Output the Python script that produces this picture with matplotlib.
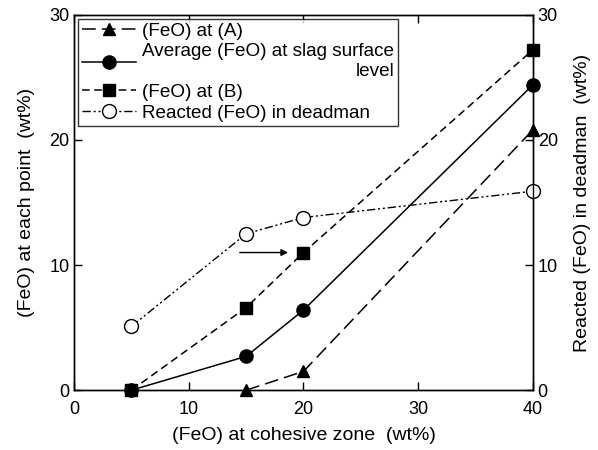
import matplotlib
matplotlib.use("Agg")
import matplotlib.pyplot as plt

plt.rcParams['font.family'] = ['Liberation Sans', 'DejaVu Sans']

# (FeO) at cohesive zone, wt%
x_a = [15, 20, 40]
feo_a = [0, 1.5, 20.8]
x_avg = [5, 15, 20, 40]
feo_avg = [0, 2.7, 6.4, 24.4]
x_b = [5, 15, 20, 40]
feo_b = [0, 6.6, 11.0, 27.2]
x_dm = [5, 15, 20, 40]
feo_dm = [5.1, 12.5, 13.8, 15.9]

fig = plt.figure(figsize=(5.98, 4.5), dpi=100)
ax = fig.add_axes([0.124, 0.133, 0.767, 0.834])

ax.plot(x_a, feo_a, color='black', lw=1.1, dashes=(9, 4),
        marker='^', ms=9, clip_on=False, label='(FeO) at (A)')
ax.plot(x_avg, feo_avg, color='black', lw=1.1, linestyle='-',
        marker='o', ms=9.5, clip_on=False,
        label='Average (FeO) at slag surface\nlevel')
ax.plot(x_b, feo_b, color='black', lw=1.1, dashes=(5, 3),
        marker='s', ms=9, clip_on=False, label='(FeO) at (B)')

ax2 = ax.twinx()
ax2.plot(x_dm, feo_dm, color='black', lw=1.0, dashes=(6, 2, 1.5, 2, 1.5, 2),
         marker='o', ms=10, mfc='white', mec='black', clip_on=False,
         label='Reacted (FeO) in deadman')

ax.annotate('', xy=(18.9, 11.0), xytext=(14.2, 11.0),
            arrowprops=dict(arrowstyle='-|>', color='black', lw=1.0,
                            mutation_scale=10))

for a in (ax, ax2):
    a.set_xlim(0, 40)
    a.set_ylim(0, 30)
    a.set_yticks([0, 10, 20, 30])
    a.tick_params(direction='in', length=6, labelsize=13, width=1)
    for s in a.spines.values():
        s.set_linewidth(1.0)
ax.set_xticks([0, 10, 20, 30, 40])
ax.tick_params(axis='x', top=True, pad=8)

ax.set_xlabel('(FeO) at cohesive zone  (wt%)', fontsize=14, labelpad=6)
ax.set_ylabel('(FeO) at each point  (wt%)', fontsize=14, labelpad=10)
ax2.set_ylabel('Reacted (FeO) in deadman  (wt%)', fontsize=14, labelpad=12)

h1, l1 = ax.get_legend_handles_labels()
h2, l2 = ax2.get_legend_handles_labels()
leg = ax2.legend(h1 + h2, l1 + l2, loc='upper left', fontsize=13.6,
                 frameon=True, fancybox=False, edgecolor='black',
                 borderaxespad=0.2, handlelength=2.9, handletextpad=0.3,
                 labelspacing=0.2, borderpad=0.2)
leg.get_frame().set_linewidth(1.0)
leg.get_texts()[1].set_multialignment('right')

fig.savefig('out.png', dpi=100)
